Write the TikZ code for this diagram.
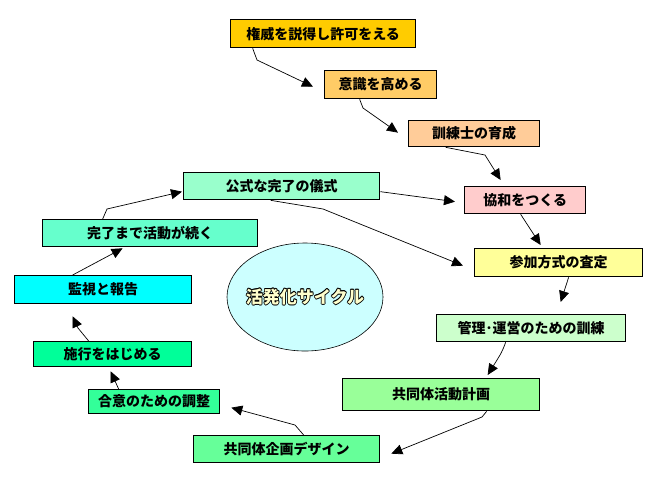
\documentclass[tikz,border=0pt]{standalone}
\usepackage{fontspec}
\setmainfont{Noto Sans CJK JP}
\usetikzlibrary{arrows.meta,shapes.geometric,calc}
\definecolor{c1}{HTML}{FFCC00}
\definecolor{c2}{HTML}{FFCC66}
\definecolor{c3}{HTML}{FFCC99}
\definecolor{c4}{HTML}{FFCCCC}
\definecolor{c5}{HTML}{FFFF99}
\definecolor{c6}{HTML}{CCFFCC}
\definecolor{c7}{HTML}{99FF99}
\definecolor{c8}{HTML}{66FF99}
\definecolor{c9}{HTML}{33FF99}
\definecolor{c10}{HTML}{00FF99}
\definecolor{c11}{HTML}{00FFFF}
\definecolor{c12}{HTML}{66FFCC}
\definecolor{c13}{HTML}{99FFCC}
\definecolor{cyc}{HTML}{CCFFFF}
\definecolor{cyctext}{HTML}{FFFFCC}
\begin{document}
\begin{tikzpicture}[x=1pt,y=-1pt,
  box/.style={draw=black,line width=1.3pt,inner sep=0pt,anchor=north west,
    font=\fontsize{14}{16}\selectfont\bfseries},
  conn/.style={draw=black,line width=0.7pt,-{Triangle[length=11pt,width=10pt]}}]
\useasboundingbox (0,0) rectangle (669,483);
\fill[white] (0,0) rectangle (669,483);
\node[box,fill=c1,minimum width=185pt,minimum height=28pt] (b1) at (230,19) {権威を説得し許可をえる};
\node[box,fill=c2,minimum width=112pt,minimum height=28pt] (b2) at (324,70) {意識を高める};
\node[box,fill=c3,minimum width=131pt,minimum height=26pt] (b3) at (408,120) {訓練士の育成};
\node[box,fill=c4,minimum width=121pt,minimum height=27pt] (b4) at (464,186) {協和をつくる};
\node[box,fill=c5,minimum width=168pt,minimum height=28pt] (b5) at (474,248) {参加方式の査定};
\node[box,fill=c6,minimum width=189pt,minimum height=27pt] (b6) at (436,314) {管理･運営のための訓練};
\node[box,fill=c7,minimum width=197pt,minimum height=32pt] (b7) at (342,378) {共同体活動計画};
\node[box,fill=c8,minimum width=186pt,minimum height=27pt] (b8) at (193,435) {共同体企画デザイン};
\node[box,fill=c9,minimum width=131pt,minimum height=24pt] (b9) at (88,389) {合意のための調整};
\node[box,fill=c10,minimum width=158pt,minimum height=25pt] (b10) at (33,341) {施行をはじめる};
\node[box,fill=c11,minimum width=177pt,minimum height=28pt] (b11) at (14,275) {監視と報告};
\node[box,fill=c12,minimum width=215pt,minimum height=27pt] (b12) at (42,219) {完了まで活動が続く};
\node[box,fill=c13,minimum width=196pt,minimum height=27pt] (b13) at (183,172) {公式な完了の儀式};
\node[ellipse,draw=black,line width=0.6pt,fill=cyc,minimum width=156pt,minimum height=108pt,inner sep=0pt] (cy) at (305,297) {};
\foreach \dx/\dy [count=\i] in {-0.7/0,0.7/0,0/-0.7,0/0.7,-0.5/-0.5,0.5/0.5,-0.5/0.5,0.5/-0.5}
  \node[font=\fontsize{17}{19}\selectfont\bfseries,text=black,inner sep=0pt] (cyo\i) at ($(cy.center)+(\dx,\dy)$) {活発化サイクル};
\node[font=\fontsize{17}{19}\selectfont\bfseries,text=cyctext,inner sep=0pt] (cyt) at (cy.center) {活発化サイクル};
\draw[conn] ([xshift=-70.5pt]b1.south) -- (257,60) -- ([xshift=-11pt,yshift=-2pt]b2.west);
\draw[conn] ([xshift=-21pt]b2.south) -- (363,108) -- ([xshift=-10pt,yshift=1pt]b3.west);
\draw[conn] ([xshift=-28.5pt]b3.south) -- (485,155) -- ([xshift=-24.5pt,yshift=6pt]b4.north);
\draw[conn] ([xshift=-4.5pt]b4.south) -- ([xshift=-18pt,yshift=3pt]b5.north);
\draw[conn] ([xshift=10pt]b5.south) -- ([xshift=29.5pt,yshift=12pt]b6.north);
\draw[conn] ([xshift=-25.5pt]b6.south) .. controls (502,352) .. ([xshift=46.5pt,yshift=3pt]b7.north);
\draw[conn] ([xshift=45.5pt]b7.south) -- (482,417) -- ([xshift=11pt,yshift=-4.5pt]b8.east);
\draw[conn] ([xshift=17pt]b8.north) -- (295,425) -- ([xshift=11pt,yshift=-6pt]b9.east);
\draw[conn] ([xshift=-35.5pt]b9.north) -- ([xshift=-2pt,yshift=-4pt]b10.south);
\draw[conn] ([xshift=-24pt]b10.north) -- (78,328) -- ([xshift=-30.5pt,yshift=-12pt]b11.south);
\draw[conn] ([xshift=-30.5pt]b11.north) -- ([xshift=-27.5pt,yshift=-1pt]b12.south);
\draw[conn] ([xshift=-47.5pt]b12.north) -- (107,209) -- ([xshift=-1pt,yshift=-5.5pt]b13.west);
\draw[conn] ([yshift=-5.5pt]b13.east) -- ([xshift=-9pt,yshift=-1.5pt]b4.west);
\draw[conn] ([xshift=-11pt]b13.south) -- (323,209) -- ([xshift=-11pt,yshift=-3pt]b5.west);
\end{tikzpicture}
\end{document}
